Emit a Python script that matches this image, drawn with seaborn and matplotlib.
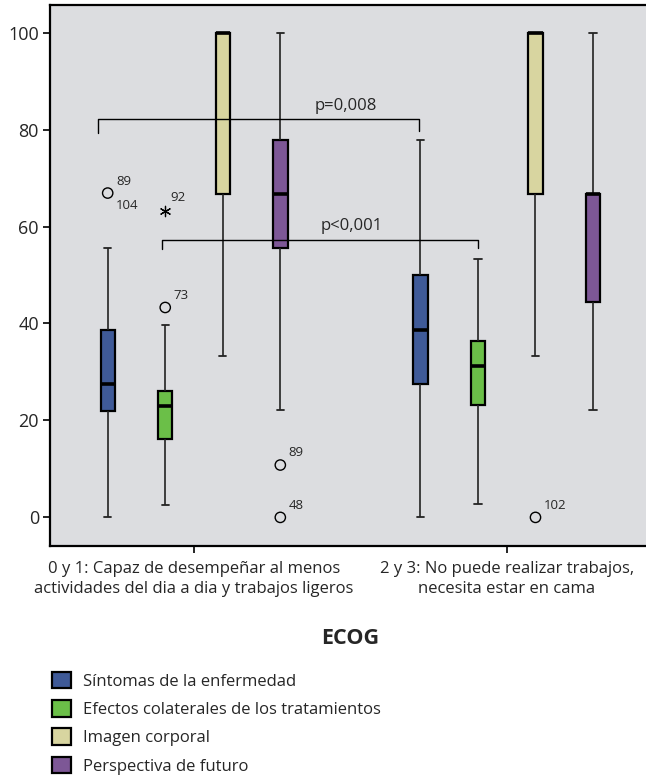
import numpy as np
import pandas as pd
import matplotlib
matplotlib.use("Agg")
import matplotlib.pyplot as plt
import seaborn as sns

# ECOG groups and the four quality-of-life dimensions
ecog_levels = [
    "0 y 1: Capaz de desempeñar al menos\nactividades del dia a dia y trabajos ligeros",
    "2 y 3: No puede realizar trabajos,\nnecesita estar en cama",
]
dimensions = [
    "Síntomas de la enfermedad",
    "Efectos colaterales de los tratamientos",
    "Imagen corporal",
    "Perspectiva de futuro",
]
colors = ["#3f5a98", "#6bbf48", "#d8d5a0", "#7d5796"]

# five-number summaries: whisker low, Q1, median, Q3, whisker high
g1_stats = [
    [0.0, 22.0, 27.5, 38.7, 55.6],
    [2.6, 16.2, 23.0, 26.1, 39.7],
    [33.3, 66.7, 100.0, 100.0, 100.0],
    [22.2, 55.6, 66.7, 77.8, 100.0],
]
g2_stats = [
    [0.0, 27.5, 38.7, 50.0, 77.8],
    [2.7, 23.1, 31.3, 36.3, 53.3],
    [33.3, 66.7, 100.0, 100.0, 100.0],
    [22.2, 44.4, 66.7, 66.7, 100.0],
]

# outliers (circles) with case numbers
out_ecog = [0, 0, 0, 0, 1]
out_dim = [0, 1, 3, 3, 2]
out_val = [66.9, 43.3, 10.8, 0.0, 0.0]
out_case = [["89", "104"], ["73"], ["89"], ["48"], ["102"]]

# extreme values (asterisks)
ext_ecog = [0]
ext_dim = [1]
ext_val = [63.3]
ext_case = ["92"]

# brackets with p-values
p_labels = ["p=0,008", "p<0,001"]

rows = []
for g, stats in enumerate([g1_stats, g2_stats]):
    for d, vals in enumerate(stats):
        for v in vals:
            rows.append({"ECOG": ecog_levels[g], "Dimension": dimensions[d], "Puntuacion": v})
df = pd.DataFrame(rows)

sns.set_theme(style="white")
plt.rcParams["font.family"] = ["Open Sans", "DejaVu Sans"]

fig = plt.figure(figsize=(6.46, 7.75), dpi=100)
ax = fig.add_axes([0.0774, 0.2955, 0.9299, 0.6981])
ax.set_facecolor("#dcdde0")

box_width = 0.736
sns.boxplot(
    data=df, x="ECOG", y="Puntuacion", hue="Dimension",
    order=ecog_levels, hue_order=dimensions, palette=colors,
    width=box_width, gap=0.75, whis=(0, 100), showfliers=False,
    linecolor="black", linewidth=1.0, saturation=1, ax=ax,
    boxprops=dict(linewidth=1.6),
    medianprops=dict(linewidth=2.6, color="black"),
    whiskerprops=dict(linewidth=1.2, color="#222222"),
    capprops=dict(linewidth=1.3, color="#222222"),
)

def xpos(g, d):
    return g + (d - 1.5) * box_width / len(dimensions)

ox = [xpos(g, d) for g, d in zip(out_ecog, out_dim)]
ax.scatter(ox, out_val, s=55, facecolors="none", edgecolors="black", linewidths=1.0, zorder=5)
for x, y, cases in zip(ox, out_val, out_case):
    ax.annotate(cases[0], (x, y), xytext=(6, 4), textcoords="offset points",
                ha="left", va="bottom", fontsize=9.5)
    if len(cases) > 1:
        ax.annotate(cases[1], (x, y), xytext=(6, -4), textcoords="offset points",
                    ha="left", va="top", fontsize=9.5)

ex = [xpos(g, d) for g, d in zip(ext_ecog, ext_dim)]
ax.scatter(ex, ext_val, s=55, marker=(6, 2, 0), color="black", linewidths=0.9, zorder=5)
for x, y, c in zip(ex, ext_val, ext_case):
    ax.annotate(c, (x, y), xytext=(4, 5), textcoords="offset points",
                ha="left", va="bottom", fontsize=9.5)

# significance brackets
ax.plot([-0.306, -0.306, 0.72, 0.72], [79.3, 82.2, 82.2, 79.8], color="black", lw=1.0)
ax.text(0.487, 84.9, p_labels[0], ha="center", va="center", fontsize=12)
ax.plot([-0.101, -0.101, 0.907, 0.907], [55.3, 57.2, 57.2, 55.5], color="black", lw=1.0)
ax.text(0.505, 60.1, p_labels[1], ha="center", va="center", fontsize=12)

ax.set_xlim(-0.4605, 1.4605)
ax.set_ylim(-5.9, 105.7)
ax.set_yticks([0, 20, 40, 60, 80, 100])
ax.set_ylabel("")
ax.set_xlabel("ECOG", fontsize=15.5, fontweight="bold", labelpad=22)
ax.tick_params(axis="y", direction="out", length=5, width=1.2, color="black",
               labelsize=13, left=True, pad=3)
ax.tick_params(axis="x", direction="out", length=5, width=1.2, color="black",
               labelsize=12, bottom=True, pad=6)
for lab in ax.get_xticklabels():
    lab.set_linespacing(1.35)
for s in ["left", "bottom", "top"]:
    ax.spines[s].set_color("black")
    ax.spines[s].set_linewidth(1.6)
ax.spines["right"].set_visible(False)

handles, labels = ax.get_legend_handles_labels()
ax.get_legend().remove()
fig.legend(handles, labels, loc="upper left", bbox_to_anchor=(0.080, 0.133),
           frameon=False, fontsize=12, handlelength=1.15, handleheight=1.15,
           labelspacing=0.62, handletextpad=0.7, borderpad=0, borderaxespad=0)

fig.savefig("out.png", dpi=100)
